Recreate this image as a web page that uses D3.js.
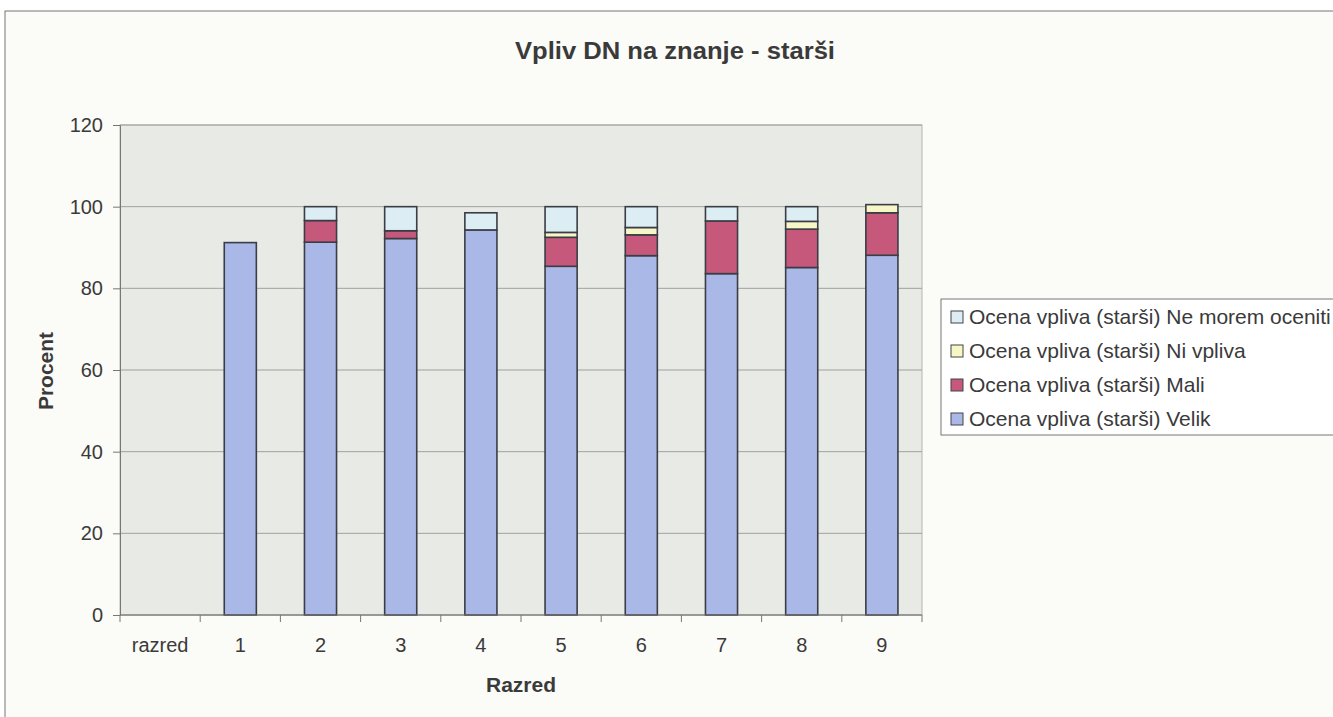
<!DOCTYPE html>
<html>
<head>
<meta charset="utf-8">
<script src="https://cdn.jsdelivr.net/npm/d3@7"></script>
<style>
  body { margin: 0; background: #ffffff; }
  text { font-family: "Liberation Sans", Arial, sans-serif; fill: #3a3a3a; }
</style>
</head>
<body>
<div id="chart"></div>
<script>
// categories along the x axis
const categories = ['razred', '1', '2', '3', '4', '5', '6', '7', '8', '9'];
// series values, percent
const velik     = [0, 91.2, 91.3, 92.2, 94.3, 85.4, 88.0, 83.6, 85.1, 88.1];
const mali      = [0, 0,    5.3,  1.9,  0,    7.1,  5.1,  12.9, 9.4,  10.4];
const niVpliva  = [0, 0,    0,    0,    0,    1.2,  1.8,  0,    1.9,  2.0];
const neMorem   = [0, 0,    3.4,  5.9,  4.2,  6.3,  5.1,  3.5,  3.6,  0];
const seriesNames = [
  'Ocena vpliva (starši) Velik',
  'Ocena vpliva (starši) Mali',
  'Ocena vpliva (starši) Ni vpliva',
  'Ocena vpliva (starši) Ne morem oceniti'
];
const yTicks = [0, 20, 40, 60, 80, 100, 120];

const colors = ['#aab8e8', '#c6597b', '#f7f6c6', '#dcedf3'];

const width = 1333, height = 717;
const margin = {top: 125, right: 411, bottom: 102, left: 120};

const svg = d3.select('#chart').append('svg')
    .attr('width', width)
    .attr('height', height);

// outer chart frame
svg.append('rect')
    .attr('x', 5).attr('y', 11)
    .attr('width', width + 20).attr('height', height)
    .attr('fill', '#fbfbf8')
    .attr('stroke', '#777')
    .attr('stroke-width', 1);

const x = d3.scaleBand()
    .domain(categories)
    .range([margin.left, width - margin.right])
    .paddingInner(0.6)
    .paddingOuter(0.3);

const y = d3.scaleLinear()
    .domain([0, 120])
    .range([height - margin.bottom, margin.top]);

// plot area
svg.append('rect')
    .attr('x', margin.left).attr('y', margin.top)
    .attr('width', width - margin.right - margin.left)
    .attr('height', height - margin.bottom - margin.top)
    .attr('fill', '#e8eae6')
    .attr('stroke', '#b5b5b5');

// gridlines
svg.append('g')
  .selectAll('line')
  .data(yTicks)
  .enter()
  .append('line')
    .attr('x1', margin.left).attr('x2', width - margin.right)
    .attr('y1', d => y(d)).attr('y2', d => y(d))
    .attr('stroke', '#a0a0a0')
    .attr('stroke-width', 1);

// stacked data
const table = categories.map((c, i) => ({
  cat: c, velik: velik[i], mali: mali[i], ni: niVpliva[i], ne: neMorem[i]
}));
const keys = ['velik', 'mali', 'ni', 'ne'];
const stacked = d3.stack().keys(keys)(table);

svg.append('g')
  .selectAll('g')
  .data(stacked)
  .enter()
  .append('g')
    .attr('fill', (d, i) => colors[i])
  .selectAll('rect')
  .data(d => d.filter(s => s[1] - s[0] > 0))
  .enter()
  .append('rect')
    .attr('x', d => x(d.data.cat))
    .attr('width', x.bandwidth())
    .attr('y', d => y(d[1]))
    .attr('height', d => y(d[0]) - y(d[1]))
    .attr('stroke', '#3a3d45')
    .attr('stroke-width', 1.6);

// y axis
const yAxis = svg.append('g')
    .attr('transform', 'translate(' + margin.left + ',0)')
    .call(d3.axisLeft(y).tickValues(yTicks).tickSize(7).tickPadding(10));
yAxis.select('.domain').attr('stroke', '#777');
yAxis.selectAll('line').attr('stroke', '#777');
yAxis.selectAll('text').style('font-size', '20px').attr('fill', '#3a3a3a');

// x axis with ticks between categories
const xAxisG = svg.append('g')
    .attr('transform', 'translate(0,' + y(0) + ')');
xAxisG.append('line')
    .attr('x1', margin.left).attr('x2', width - margin.right)
    .attr('stroke', '#777');
const step = x.step();
xAxisG.selectAll('.tk')
  .data(d3.range(categories.length + 1))
  .enter()
  .append('line')
    .attr('x1', i => margin.left + i * step)
    .attr('x2', i => margin.left + i * step)
    .attr('y1', 0).attr('y2', 7)
    .attr('stroke', '#777');
xAxisG.selectAll('.lbl')
  .data(categories)
  .enter()
  .append('text')
    .attr('x', d => x(d) + x.bandwidth() / 2)
    .attr('y', 37)
    .attr('text-anchor', 'middle')
    .style('font-size', '20px')
    .text(d => d);

// titles
svg.append('text')
    .attr('x', 675).attr('y', 59)
    .attr('text-anchor', 'middle')
    .attr('textLength', 320)
    .attr('lengthAdjust', 'spacingAndGlyphs')
    .style('font-size', '23px')
    .style('font-weight', 'bold')
    .text('Vpliv DN na znanje - starši');

svg.append('text')
    .attr('x', 521)
    .attr('y', 692)
    .attr('text-anchor', 'middle')
    .style('font-size', '21px')
    .style('font-weight', 'bold')
    .text('Razred');

svg.append('text')
    .attr('transform', 'translate(53,371) rotate(-90)')
    .attr('text-anchor', 'middle')
    .style('font-size', '21px')
    .style('font-weight', 'bold')
    .text('Procent');

// legend, reversed order like the original
const legend = svg.append('g');
legend.append('rect')
    .attr('x', 941).attr('y', 299)
    .attr('width', 420).attr('height', 136)
    .attr('fill', '#ffffff')
    .attr('stroke', '#777');

const legendOrder = [3, 2, 1, 0];
const item = legend.selectAll('.item')
  .data(legendOrder)
  .enter()
  .append('g')
    .attr('transform', (d, i) => 'translate(951,' + (317 + i * 34) + ')');
item.append('rect')
    .attr('x', 0).attr('y', -6)
    .attr('width', 12).attr('height', 12)
    .attr('fill', d => colors[d])
    .attr('stroke', '#444')
    .attr('stroke-width', 1);
item.append('text')
    .attr('x', 18).attr('y', 7)
    .style('font-size', '21px')
    .text(d => seriesNames[d]);
</script>
</body>
</html>
